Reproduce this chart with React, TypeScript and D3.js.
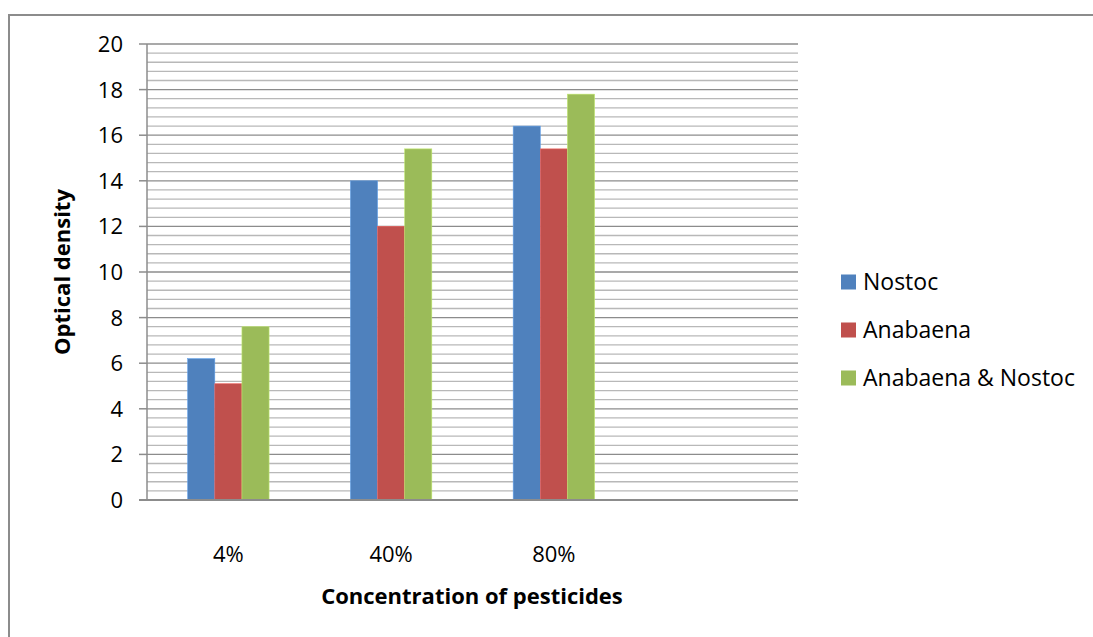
import { useEffect, useRef } from 'react';
import * as d3 from 'd3';

// data
const categories = ['4%', '40%', '80%', ''];
const seriesNames = ['Nostoc', 'Anabaena', 'Anabaena & Nostoc'];
const nostoc = [6.2, 14, 16.4];
const anabaena = [5.1, 12, 15.4];
const mixed = [7.6, 15.4, 17.8];
const yTicks = [0, 2, 4, 6, 8, 10, 12, 14, 16, 18, 20];
const colours = ['#4F81BD', '#C0504D', '#9BBB59'];

const W = 1093;
const H = 637;

const App = () => {
    const chartRef = useRef<SVGSVGElement | null>(null);

    useEffect(() => {
        const svg = d3.select(chartRef.current);
        svg.selectAll('*').remove();

        const font = '"Open Sans", "Noto Sans", "DejaVu Sans", sans-serif';
        const left = 147, right = 798, top = 44, bottom = 500;

        // outer chart border, runs off the right and bottom of the picture
        svg.append('rect')
            .attr('x', 9).attr('y', 15)
            .attr('width', W).attr('height', H)
            .attr('fill', 'white')
            .attr('stroke', '#8c8c8c')
            .attr('stroke-width', 2);

        const xScale = d3.scaleBand<string>()
            .domain(categories.map((c, i) => i + ':' + c))
            .range([left, right]);

        const yScale = d3.scaleLinear().domain([0, 20]).range([bottom, top]);

        // minor gridlines every 0.4
        const minor = d3.range(0, 20.01, 0.4).filter(v => Math.abs(v / 2 - Math.round(v / 2)) > 0.01);
        svg.append('g').selectAll('line')
            .data(minor)
            .join('line')
            .attr('x1', left).attr('x2', right)
            .attr('y1', d => yScale(d)).attr('y2', d => yScale(d))
            .attr('stroke', '#b8b8b8')
            .attr('stroke-width', 1.3);

        // major gridlines
        svg.append('g').selectAll('line')
            .data(yTicks.slice(1))
            .join('line')
            .attr('x1', left).attr('x2', right)
            .attr('y1', d => yScale(d)).attr('y2', d => yScale(d))
            .attr('stroke', '#8c8c8c')
            .attr('stroke-width', 1.3);

        // bars
        const all = [nostoc, anabaena, mixed];
        const band = xScale.bandwidth();
        const barW = band / 6;
        const inner = d3.scaleBand<number>()
            .domain([0, 1, 2])
            .range([(band - barW * 3) / 2, (band + barW * 3) / 2]);

        all.forEach((vals, s) => {
            svg.append('g').selectAll('rect')
                .data(vals)
                .join('rect')
                .attr('x', (d, i) => (xScale(i + ':' + categories[i]) ?? 0) + (inner(s) ?? 0))
                .attr('y', d => yScale(d))
                .attr('width', inner.bandwidth())
                .attr('height', d => bottom - yScale(d))
                .attr('fill', colours[s])
                .attr('stroke', d3.color(colours[s])!.brighter(0.6).formatHex())
                .attr('stroke-width', 0.6);
        });

        // y axis
        svg.append('line')
            .attr('x1', left).attr('x2', left)
            .attr('y1', top).attr('y2', bottom)
            .attr('stroke', '#8c8c8c').attr('stroke-width', 1.5);
        svg.append('line')
            .attr('x1', 139).attr('x2', right)
            .attr('y1', bottom).attr('y2', bottom)
            .attr('stroke', '#8c8c8c').attr('stroke-width', 2);

        const yAxis = svg.append('g');
        yAxis.selectAll('line')
            .data(yTicks)
            .join('line')
            .attr('x1', 139).attr('x2', left)
            .attr('y1', d => yScale(d)).attr('y2', d => yScale(d))
            .attr('stroke', '#8c8c8c').attr('stroke-width', 1.5);
        yAxis.selectAll('text')
            .data(yTicks)
            .join('text')
            .attr('x', 123)
            .attr('y', d => yScale(d))
            .attr('dy', '0.36em')
            .attr('text-anchor', 'end')
            .style('font-family', font)
            .style('font-size', '22px')
            .text(d => d);

        // category labels
        svg.append('g').selectAll('text')
            .data(categories)
            .join('text')
            .attr('x', (d, i) => (xScale(i + ':' + d) ?? 0) + band / 2)
            .attr('y', 562)
            .attr('text-anchor', 'middle')
            .style('font-family', font)
            .style('font-size', '22px')
            .text(d => d);

        // axis titles
        svg.append('text')
            .attr('x', 472).attr('y', 604)
            .attr('text-anchor', 'middle')
            .style('font-family', font)
            .style('font-size', '22px')
            .style('font-weight', 'bold')
            .text('Concentration of pesticides');

        svg.append('text')
            .attr('transform', 'translate(70,272) rotate(-90)')
            .attr('text-anchor', 'middle')
            .style('font-family', font)
            .style('font-size', '22px')
            .style('font-weight', 'bold')
            .text('Optical density');

        // legend
        const legend = svg.append('g').selectAll('g')
            .data(seriesNames)
            .join('g')
            .attr('transform', (d, i) => `translate(841, ${282 + i * 48})`);
        legend.append('rect')
            .attr('x', 0).attr('y', -7.5)
            .attr('width', 15).attr('height', 15)
            .attr('fill', (d, i) => colours[i]);
        legend.append('text')
            .attr('x', 22).attr('y', 0)
            .attr('dy', '0.36em')
            .style('font-family', font)
            .style('font-size', '23px')
            .text(d => d);
    }, []);

    return (
        <svg ref={chartRef} width={W} height={H}
            style={{ position: 'absolute', left: 0, top: 0, background: 'white' }}></svg>
    );
};

export default App;
